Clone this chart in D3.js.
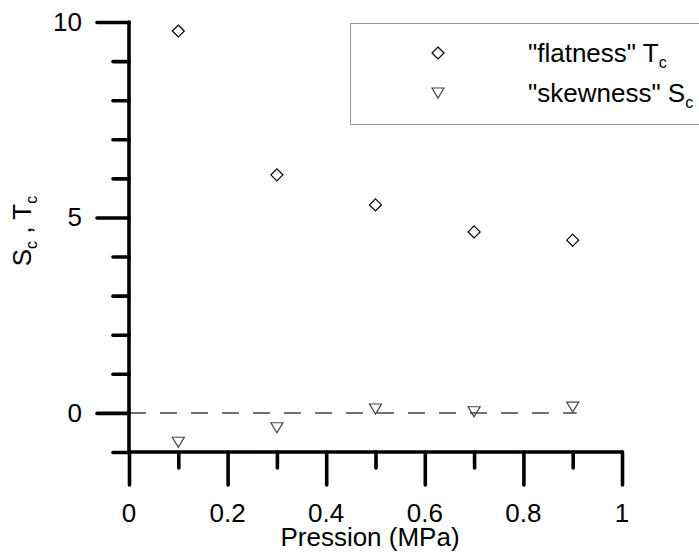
<!DOCTYPE html>
<html><head><meta charset="utf-8">
<script src="https://cdn.jsdelivr.net/npm/d3@7"></script>
<style>body{margin:0;background:#fff}svg{display:block}text{font-family:"Liberation Sans",Arial,sans-serif}</style>
</head><body><svg id="c" width="699" height="559"></svg>
<script>
const pressures = [0.1, 0.3, 0.5, 0.7, 0.9];
const flatness = [9.77, 6.09, 5.32, 4.63, 4.42];
const skewness = [-0.75, -0.38, 0.10, 0.03, 0.15];
const xMajor = [0, 0.2, 0.4, 0.6, 0.8, 1];
const xMinor = [0.1, 0.3, 0.5, 0.7, 0.9];
const yMajor = [0, 5, 10];
const yMinor = [-1, 1, 2, 3, 4, 6, 7, 8, 9];
const xTickLabels = ["0", "0.2", "0.4", "0.6", "0.8", "1"];
const yTickLabels = ["0", "5", "10"];

const svg = d3.select("#c");
const x = d3.scaleLinear().domain([0, 1]).range([129, 622]);
const y = d3.scaleLinear().domain([-1, 10]).range([452, 22]);
const FS = 26, SUB = 16;

function label(g, px, py, anchor, parts) {
  const t = g.append("text").attr("x", px).attr("y", py).attr("font-size", FS)
    .attr("text-anchor", anchor).attr("fill", "#000");
  parts.forEach(p => {
    const ts = t.append("tspan").text(p.t);
    if (p.sub) ts.attr("font-size", SUB).attr("dy", 6);
  });
  return t;
}

// dashed zero line
svg.append("line").attr("x1", x(0)).attr("x2", x(0.9)+4).attr("y1", y(0)).attr("y2", y(0))
  .attr("stroke", "#444").attr("stroke-width", 1.5).attr("stroke-dasharray", "17,14");

const axStyle = g => g.selectAll("line").attr("stroke", "#000").attr("stroke-width", 3.6).attr("stroke-linecap", "round");

const yMaj = svg.append("g").attr("transform", `translate(${x(0)},0)`)
  .call(d3.axisLeft(y).tickValues(yMajor).tickSize(32).tickFormat(""));
const yMin = svg.append("g").attr("transform", `translate(${x(0)},0)`)
  .call(d3.axisLeft(y).tickValues(yMinor).tickSize(16).tickFormat(""));
const xMaj = svg.append("g").attr("transform", `translate(0,${y(-1)})`)
  .call(d3.axisBottom(x).tickValues(xMajor).tickSize(33).tickFormat(""));
const xMin = svg.append("g").attr("transform", `translate(0,${y(-1)})`)
  .call(d3.axisBottom(x).tickValues(xMinor).tickSize(16).tickFormat(""));
[yMaj, yMin, xMaj, xMin].forEach(g => { g.select(".domain").remove(); axStyle(g); });

svg.append("line").attr("x1", x(0)).attr("x2", x(0)).attr("y1", y(10)).attr("y2", y(-1))
  .attr("stroke", "#000").attr("stroke-width", 3.6).attr("stroke-linecap", "round");
svg.append("line").attr("x1", x(0)).attr("x2", x(1)).attr("y1", y(-1)).attr("y2", y(-1))
  .attr("stroke", "#000").attr("stroke-width", 3.6).attr("stroke-linecap", "round");

// tick labels
yMajor.forEach((v, i) => label(svg, 82, y(v) + 9, "end", [{t: yTickLabels[i]}]));
xMajor.forEach((v, i) => label(svg, x(v), 522, "middle", [{t: xTickLabels[i]}]));

// axis titles
label(svg, 370, 546, "middle", [{t: "Pression (MPa)"}]);
const yt = svg.append("g").attr("transform", "translate(31,231) rotate(-90)")
  .append("text").attr("font-size", FS).attr("text-anchor", "middle");
yt.append("tspan").text("S");
yt.append("tspan").text("c").attr("font-size", SUB).attr("dy", 6);
yt.append("tspan").text(" , T").attr("dy", -6);
yt.append("tspan").text("c").attr("font-size", SUB).attr("dy", 6);

// markers
const diamond = (cx, cy, r) => `M${cx},${cy-r}L${cx+r},${cy}L${cx},${cy+r}L${cx-r},${cy}Z`;
const tri = (cx, cy) => `M${cx-6},${cy-5}L${cx+6},${cy-5}L${cx},${cy+5}Z`;
svg.append("g").selectAll("path").data(pressures).join("path")
  .attr("d", (d, i) => diamond(x(d), y(flatness[i]), 6))
  .attr("fill", "none").attr("stroke", "#000").attr("stroke-width", 1.2);
svg.append("g").selectAll("path").data(pressures).join("path")
  .attr("d", (d, i) => tri(x(d), y(skewness[i])))
  .attr("fill", "none").attr("stroke", "#444").attr("stroke-width", 1.2);

// legend
svg.append("rect").attr("x", 350.5).attr("y", 23.5).attr("width", 360).attr("height", 101)
  .attr("fill", "#fff").attr("stroke", "#999").attr("stroke-width", 1);
svg.append("path").attr("d", diamond(438, 53, 6)).attr("fill", "none").attr("stroke", "#000").attr("stroke-width", 1.2);
svg.append("path").attr("d", tri(438, 93)).attr("fill", "none").attr("stroke", "#444").attr("stroke-width", 1.2);
label(svg, 528, 62, "start", [{t: "\"flatness\" T"}, {t: "c", sub: true}]);
label(svg, 528, 102, "start", [{t: "\"skewness\" S"}, {t: "c", sub: true}]);
</script></body></html>
